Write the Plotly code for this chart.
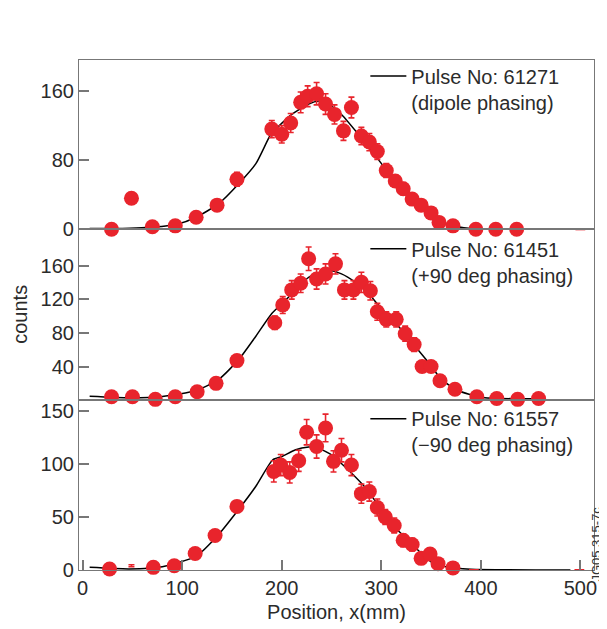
import plotly.graph_objects as go

# ---------------- data ----------------
# Panel 1: Pulse 61271 (dipole phasing)
x_top = [29, 49, 70, 93, 114, 135, 155, 190, 200, 209, 219, 226, 235, 244, 253, 262, 270, 280, 288, 296,
         305, 314, 322, 331, 340, 350, 358, 372, 395, 415, 436]
y_top = [0, 36, 3, 4, 14, 28, 58, 116, 110, 123, 147, 154, 157, 145, 133, 114, 141, 108, 101, 90,
         68, 56, 47, 35, 28, 19, 8, 4, 0, 0, 0]
e_top = [2, 5, 2, 2, 4, 5, 8, 10, 10, 11, 12, 12, 13, 12, 11, 11, 12, 10, 10, 9,
         8, 7, 7, 6, 5, 4, 3, 2, 1, 1, 1]
fit_x_top = [7, 40, 64, 94, 114, 137, 157, 174, 189, 194, 210, 227, 237, 245, 260, 277, 297, 317, 334, 350, 367, 390, 437]
fit_y_top = [1, 1, 2, 5.6, 14, 30, 53, 76, 110, 116, 133, 145, 148.5, 147, 133, 110, 81, 49.5, 30, 15, 5.6, 1, 0]
tiny_x_top = [500]
tiny_y_top = [0]

# Panel 2: Pulse 61451 (+90 deg phasing)
x_mid = [29, 50, 73, 93, 115, 134, 155, 193, 201, 210, 219, 227, 235, 244, 254, 263, 272, 280, 289, 296,
         305, 315, 324, 333, 341, 350, 359, 374, 396, 416, 437, 458]
y_mid = [4, 4, 1, 4, 10, 20, 47, 92, 113, 131, 139, 168, 144, 150, 162, 131, 131, 140, 130, 105,
         96, 96, 79, 66, 40, 40, 23, 13, 4, 2, 1, 2]
e_mid = [2, 2, 2, 2, 3, 4, 6, 8, 10, 11, 11, 14, 12, 12, 12, 11, 11, 12, 11, 10,
         9, 9, 9, 8, 6, 6, 5, 3, 2, 1, 1, 1]
fit_x_mid = [7, 47, 80, 114, 137, 157, 174, 190, 204, 217, 227, 247, 260, 274, 287, 297, 317, 334, 350, 360, 377, 400, 434, 464]
fit_y_mid = [4.8, 2.9, 4.4, 11.5, 25, 48.6, 76, 103, 119, 134.6, 146, 154, 150, 140, 127, 113, 88, 64, 41, 25, 11.5, 3.6, 1.7, 1.7]

# Panel 3: Pulse 61557 (-90 deg phasing)
x_bot = [27, 71, 92, 113, 133, 155, 192, 199, 208, 217, 225, 235, 244, 252, 260, 270, 280, 288, 296,
         304, 313, 322, 331, 340, 349, 357, 372]
y_bot = [1, 2.5, 4, 15.5, 32.6, 60, 93, 99, 92, 103, 130, 116.5, 134, 102.5, 113, 99, 72, 74, 59,
         50, 42, 28, 24, 11, 15, 6, 2]
e_bot = [1, 2, 2, 3, 4, 5, 10, 10, 10, 10, 12, 11, 13, 10, 11, 10, 9, 9, 8,
         7, 7, 6, 6, 4, 4, 3, 2]
fit_x_bot = [7, 47, 80, 114, 137, 157, 174, 191, 200, 214, 227, 234, 253, 257, 270, 284, 297, 310, 324, 337, 350, 367, 390, 490]
fit_y_bot = [2.5, 1, 3.1, 13, 34, 57.5, 79, 104, 107, 113.4, 116, 116, 107, 103, 91.5, 77.7, 61, 43.5, 31, 18.6, 7.8, 2.5, 0.7, 0]
bar_only_x_bot = [49]
bar_only_y_bot = [3]
tiny_x_bot = [393, 499]
tiny_y_bot = [0, 0]

labels = ["Pulse No: 61271<br>(dipole phasing)",
          "Pulse No: 61451<br>(+90 deg phasing)",
          "Pulse No: 61557<br>(\u221290 deg phasing)"]

ticks_top = [0, 80, 160]
ticks_mid = [40, 80, 120, 160]
ticks_bot = [0, 50, 100, 150]
ticks_x = [0, 100, 200, 300, 400, 500]

# ---------------- style ----------------
RED = "#E8242C"
FONT = "Liberation Sans, Arial, Helvetica, sans-serif"
TXT = "#2b2b2b"
AX = "#777777"

fig = go.Figure()

panels = [
    ("x", "y", x_top, y_top, e_top, fit_x_top, fit_y_top, "legend"),
    ("x2", "y2", x_mid, y_mid, e_mid, fit_x_mid, fit_y_mid, "legend2"),
    ("x3", "y3", x_bot, y_bot, e_bot, fit_x_bot, fit_y_bot, "legend3"),
]

for i, (xa, ya, xs, ys, es, fx, fy, lg) in enumerate(panels):
    fig.add_trace(go.Scatter(
        x=fx, y=fy, xaxis=xa, yaxis=ya, mode="lines",
        line=dict(color="black", width=1.5, shape="spline", smoothing=0.6),
        name=labels[i], legend=lg, showlegend=True, cliponaxis=False))
    fig.add_trace(go.Scatter(
        x=xs, y=ys, xaxis=xa, yaxis=ya, mode="markers",
        marker=dict(color=RED, size=15, line=dict(width=0)),
        error_y=dict(type="data", array=es, color=RED, thickness=1.6, width=3),
        showlegend=False, cliponaxis=False))

# small partially hidden points
fig.add_trace(go.Scatter(x=tiny_x_top, y=tiny_y_top, xaxis="x", yaxis="y", mode="markers",
                         marker=dict(symbol="line-ew", size=7, line=dict(color=RED, width=2)),
                         showlegend=False, cliponaxis=False))
fig.add_trace(go.Scatter(x=tiny_x_bot, y=tiny_y_bot, xaxis="x3", yaxis="y3", mode="markers",
                         marker=dict(symbol="line-ew", size=7, line=dict(color=RED, width=2)),
                         showlegend=False, cliponaxis=False))
fig.add_trace(go.Scatter(x=bar_only_x_bot, y=bar_only_y_bot, xaxis="x3", yaxis="y3", mode="markers",
                         marker=dict(color=RED, size=1, opacity=0),
                         error_y=dict(type="data", array=[2], arrayminus=[0], color=RED, thickness=1.6, width=3),
                         showlegend=False, cliponaxis=False))

xrange = [-3.7, 513.7]
d_top = [0.668, 1.0]
d_mid = [0.333, 0.668]
d_bot = [0.0, 0.333]

common_x = dict(range=xrange, showline=True, linecolor=AX, linewidth=1.2, mirror=True,
                showgrid=False, zeroline=False)
common_y = dict(showline=True, linecolor=AX, linewidth=1.2, mirror=True, showgrid=False,
                zeroline=False, ticks="inside", ticklen=10, tickwidth=1.5, tickcolor=AX,
                tickfont=dict(family=FONT, size=20, color=TXT))

# page body has an 8px margin: figure is placed at (8, 8) in the window
fig.update_layout(
    width=599, height=621,
    margin=dict(l=71, r=10, t=52, b=52),
    paper_bgcolor="white", plot_bgcolor="white",
    font=dict(family=FONT, size=20, color=TXT),
    xaxis=dict(**common_x, anchor="y", showticklabels=False, ticks=""),
    xaxis2=dict(**common_x, anchor="y2", showticklabels=False, ticks="", matches="x"),
    xaxis3=dict(**common_x, anchor="y3", matches="x", ticks="inside", ticklen=10, tickwidth=1.5,
                tickcolor=AX, tickvals=ticks_x, tickfont=dict(family=FONT, size=20, color=TXT),
                title=dict(text="Position, x(mm)", standoff=6, font=dict(family=FONT, size=20, color=TXT))),
    yaxis=dict(**common_y, domain=d_top, anchor="x", range=[0, 196], tickvals=ticks_top),
    yaxis2=dict(**common_y, domain=d_mid, anchor="x2", range=[0, 203], tickvals=ticks_mid),
    yaxis3=dict(**common_y, domain=d_bot, anchor="x3", range=[0, 160.2], tickvals=ticks_bot),
)

leg_common = dict(x=0.556, xanchor="left", yanchor="top", bgcolor="rgba(0,0,0,0)",
                  font=dict(family=FONT, size=20, color=TXT), valign="top", itemwidth=36,
                  borderwidth=0)
fig.update_layout(
    legend=dict(**leg_common, y=1.007),
    legend2=dict(**leg_common, y=0.668),
    legend3=dict(**leg_common, y=0.335),
)

fig.add_annotation(text="counts", textangle=-90, xref="paper", yref="paper",
                   x=-0.114, y=0.501, showarrow=False, xanchor="center", yanchor="middle",
                   font=dict(family=FONT, size=20, color=TXT))
fig.add_annotation(text="JG05.315-7c", textangle=-90, xref="paper", yref="paper",
                   x=1.004, y=0.05, showarrow=False, xanchor="center", yanchor="middle",
                   font=dict(family=FONT, size=13, color="#333"))

fig.write_html("out.html")
